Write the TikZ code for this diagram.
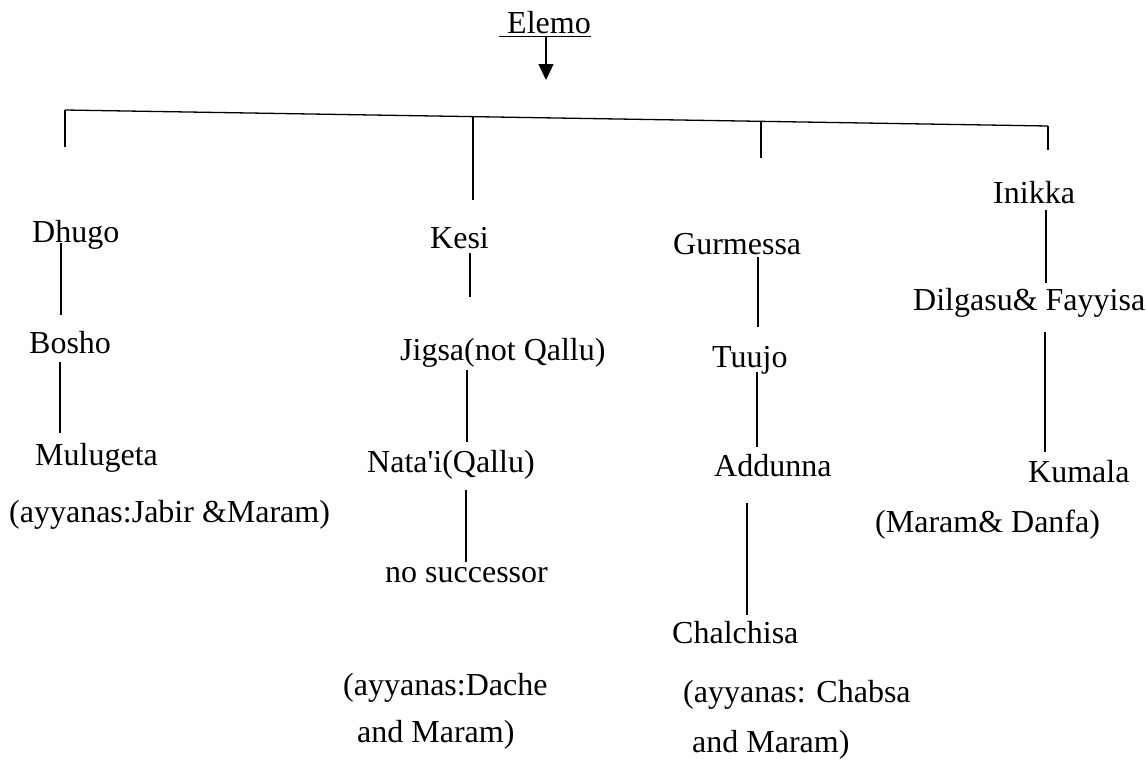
\documentclass[tikz,border=0pt]{standalone}
\usepackage{fontspec}
\setmainfont{Liberation Serif}
\usetikzlibrary{arrows.meta}
\begin{document}
\begin{tikzpicture}[x=1pt,y=-1pt,
  lbl/.style={anchor=base west,inner sep=0pt,font=\fontsize{32}{38}\selectfont},
  link/.style={line width=1.3pt}]
\useasboundingbox (0,0) rectangle (1146,763);
% root
\node[lbl] (elemo) at (507,33) {Elemo};
\coordinate (ulL) at (499,36);
\coordinate (ulR) at (591,36);
\draw[line width=1pt] (ulL) -- (ulR);
\coordinate (arS) at (546,36);
\coordinate (arE) at (546,80);
\draw[link,-{Triangle[width=15pt,length=16pt]}] (arS) -- (arE);
% bar
\coordinate (barL) at (65,110);
\coordinate (barR) at (1048,126);
\coordinate (barK) at (473,116.6);
\coordinate (barG) at (761,121.3);
\draw[link] (barL) -- (barR);
\coordinate (dL) at (65,147);
\coordinate (dK) at (473,200);
\coordinate (dG) at (761,158);
\coordinate (dI) at (1048,150);
\draw[link] (barL) -- (dL);
\draw[link] (barK) -- (dK);
\draw[link] (barG) -- (dG);
\draw[link] (barR) -- (dI);
% column 1
\node[lbl] (dhugo) at (32,242) {Dhugo};
\node[lbl] (bosho) at (29,353) {Bosho};
\node[lbl] (mulugeta) at (35,465) {Mulugeta};
\node[lbl] (jabir) at (9,522) {(ayyanas:Jabir \&Maram)};
\coordinate (a1) at (61,243); \coordinate (a2) at (61,315);
\coordinate (a3) at (60,362); \coordinate (a4) at (60,433);
\draw[link] (a1) -- (a2);
\draw[link] (a3) -- (a4);
% column 2
\node[lbl] (kesi) at (430,248) {Kesi};
\node[lbl] (jigsa) at (400,360) {Jigsa(not Qallu)};
\node[lbl] (natai) at (367,472) {Nata\textquotesingle i(Qallu)};
\node[lbl] (nosucc) at (385,582) {no successor};
\node[lbl] (dache) at (343,695) {(ayyanas:Dache};
\node[lbl] (dache2) at (357,742) {and Maram)};
\coordinate (b1) at (470,253); \coordinate (b2) at (470,297);
\coordinate (b3) at (467,370); \coordinate (b4) at (467,442);
\coordinate (b5) at (466,490); \coordinate (b6) at (466,562);
\draw[link] (b1) -- (b2);
\draw[link] (b3) -- (b4);
\draw[link] (b5) -- (b6);
% column 3
\node[lbl] (gurmessa) at (673,254) {Gurmessa};
\node[lbl] (tuujo) at (712,367) {Tuujo};
\node[lbl] (addunna) at (714,476) {Addunna};
\node[lbl] (chalchisa) at (672,643) {Chalchisa};
\node[lbl] (chabsa) at (683,702) {(ayyanas: Chabsa};
\node[lbl] (chabsa2) at (692,752) {and Maram)};
\coordinate (c1) at (758,257); \coordinate (c2) at (758,327);
\coordinate (c3) at (757,372); \coordinate (c4) at (757,447);
\coordinate (c5) at (747,503); \coordinate (c6) at (747,615);
\draw[link] (c1) -- (c2);
\draw[link] (c3) -- (c4);
\draw[link] (c5) -- (c6);
% column 4
\node[lbl] (inikka) at (993,203) {Inikka};
\node[lbl] (dilgasu) at (913,310) {Dilgasu\& Fayyisa};
\node[lbl] (kumala) at (1028,482) {Kumala};
\node[lbl] (danfa) at (875,532) {(Maram\& Danfa)};
\coordinate (e1) at (1046,210); \coordinate (e2) at (1046,283);
\coordinate (e3) at (1045,332); \coordinate (e4) at (1045,452);
\draw[link] (e1) -- (e2);
\draw[link] (e3) -- (e4);
\end{tikzpicture}
\end{document}
